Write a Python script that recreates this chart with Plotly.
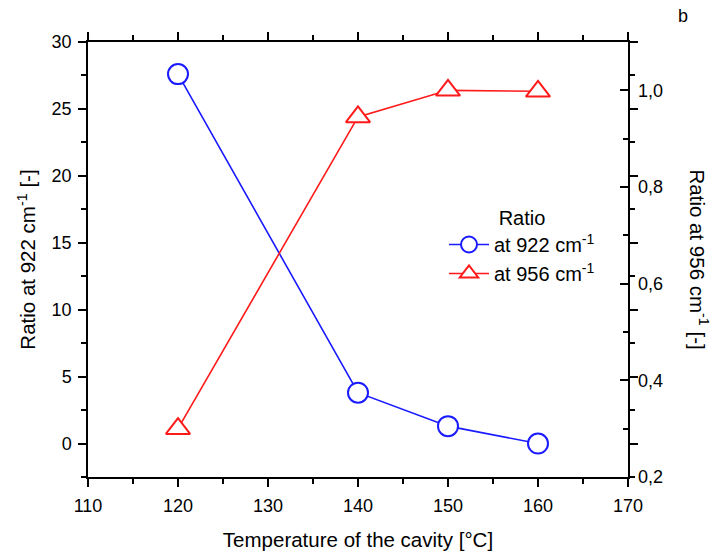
import plotly.graph_objects as go

# Cavity temperature [°C]
temperature = [120, 140, 150, 160]
# Band ratios
ratio_922 = [27.6, 3.8, 1.3, 0.0]
ratio_956 = [0.30, 0.945, 1.0, 0.998]

FONT = "Liberation Sans, Arial, sans-serif"
BLUE = "#1a1aff"
RED = "#ff1a1a"

ML, MR, MT, MB = 88, 86, 42, 79
W, H = 714, 556
plot_w = W - ML - MR
plot_h = H - MT - MB

fig = go.Figure()

fig.add_trace(go.Scatter(
    x=temperature, y=ratio_922, mode="lines+markers",
    name="at 922 cm<sup>-1</sup>",
    line=dict(color=BLUE, width=1.6),
    marker=dict(symbol="circle", size=20, color="white",
                line=dict(color=BLUE, width=2)),
    yaxis="y",
))
fig.add_trace(go.Scatter(
    x=temperature, y=ratio_956, mode="lines+markers",
    name="at 956 cm<sup>-1</sup>",
    line=dict(color=RED, width=1.6),
    marker=dict(symbol="triangle-up", size=21, color="white",
                line=dict(color=RED, width=2)),
    yaxis="y2",
))

fig.update_layout(
    width=W, height=H,
    margin=dict(l=ML, r=MR, t=MT, b=MB),
    paper_bgcolor="white", plot_bgcolor="white",
    font=dict(family=FONT, size=18, color="black"),
    separators=",.",
    showlegend=True,
    legend=dict(
        x=(444 - ML) / plot_w, y=(H - MB - 199) / plot_h,
        xanchor="left", yanchor="top",
        bgcolor="rgba(0,0,0,0)",
        font=dict(size=20, family=FONT),
        title=dict(text="Ratio", side="top center", font=dict(size=20, family=FONT)),
        itemwidth=40,
        tracegroupgap=6,
    ),
    xaxis=dict(
        range=[110, 170], dtick=10, tick0=110,
        ticks="outside", ticklen=8, tickwidth=1.5, tickcolor="black",
        minor=dict(dtick=5, ticks="outside", ticklen=5, tickwidth=1.5, tickcolor="black"),
        showline=True, linecolor="black", linewidth=1.5, mirror="ticks",
        showgrid=False, zeroline=False, automargin=False,
        tickfont=dict(size=18),
        ticklabelstandoff=4,
        title=dict(text="Temperature of the cavity [°C]", font=dict(size=20.5), standoff=17),
    ),
    yaxis=dict(
        range=[-2.5, 30], dtick=5, tick0=0,
        ticks="outside", ticklen=8, tickwidth=1.5, tickcolor="black",
        minor=dict(dtick=2.5, tick0=0, ticks="outside", ticklen=5, tickwidth=1.5, tickcolor="black"),
        showline=True, linecolor="black", linewidth=1.5, mirror="ticks",
        showgrid=False, zeroline=False, automargin=False,
        tickfont=dict(size=18),
        ticklabelstandoff=3,
        title=dict(text="Ratio at 922 cm<sup>-1</sup> [-]", font=dict(size=20.5), standoff=10),
    ),
    yaxis2=dict(
        overlaying="y", side="right",
        range=[0.2, 1.1], dtick=0.2, tick0=0.2, tickformat=".1f",
        ticks="inside", ticklen=8, tickwidth=1.5, tickcolor="black",
        minor=dict(dtick=0.1, tick0=0.2, ticks="inside", ticklen=5, tickwidth=1.5, tickcolor="black"),
        showline=False, showgrid=False, zeroline=False, automargin=False,
        tickfont=dict(size=18),
        ticklabelstandoff=9,
    ),
    annotations=[
        dict(text="Ratio at 956 cm<sup>-1</sup> [-]", textangle=90,
             x=(699 - ML) / plot_w, y=0.5, xref="paper", yref="paper",
             xanchor="center", yanchor="middle", showarrow=False,
             font=dict(size=20.5)),
        dict(text="b", x=(683 - ML) / plot_w, y=(H - MB - 16) / plot_h,
             xref="paper", yref="paper", xanchor="center", yanchor="middle",
             showarrow=False, font=dict(size=18)),
    ],
)

fig.write_html("out.html")
